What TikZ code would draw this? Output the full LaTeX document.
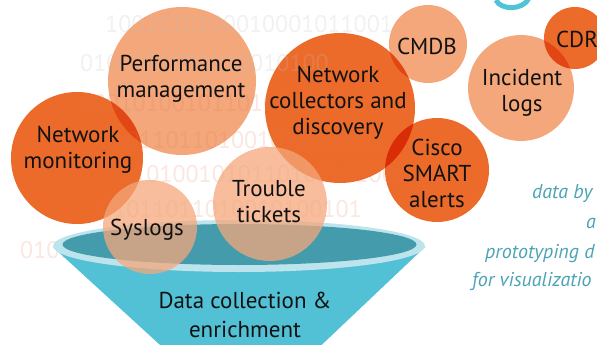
\documentclass[tikz,border=0pt]{standalone}
\usepackage{fontspec}
\setmainfont{PT Sans}
\definecolor{darkor}{RGB}{236,107,42}
\definecolor{lightor}{RGB}{244,167,123}
\definecolor{tealin}{RGB}{68,155,172}
\definecolor{funnelc}{RGB}{83,193,213}
\definecolor{rimc}{RGB}{189,228,236}
\definecolor{sidetxt}{RGB}{75,163,181}
\definecolor{gcyan}{RGB}{80,196,214}
\definecolor{digor}{RGB}{225,120,80}
\definecolor{diggr}{RGB}{190,190,190}
\definecolor{txt}{RGB}{17,17,17}
\begin{document}
\begin{tikzpicture}[x=1pt,y=-1pt,
  bubble/.style={circle, inner sep=0pt, draw=none, minimum size=#1},
  darkb/.style={bubble=#1, fill=darkor},
  lightb/.style={bubble=#1, fill=lightor},
  lbl/.style={font=\fontsize{23}{26}\selectfont, align=center, text=txt, inner sep=0pt, anchor=base},
  digits/.style={font=\fontsize{24}{24}\selectfont, text=digor, text opacity=0.18, inner sep=0pt, anchor=base west},
  digitsg/.style={font=\fontsize{24}{24}\selectfont, text=diggr, text opacity=0.22, inner sep=0pt, anchor=base west},
  side/.style={font=\fontsize{20}{20}\selectfont\itshape, text=sidetxt, inner sep=0pt, anchor=base west}]
\useasboundingbox (0,0) rectangle (597,345);
\clip (0,0) rectangle (597,345);
% orange bubbles (multiply)
\begin{scope}[blend mode=multiply]
  \node[lightb=148pt] (perf) at (182,81) {};
  \node[darkb=132pt] (mon) at (77,158) {};
  \node[darkb=150pt] (coll) at (340,108) {};
  \node[lightb=78pt] (cmdb) at (428,44) {};
  \node[lightb=106pt] (inc) at (521,88) {};
  \node[darkb=62pt] (cdr) at (575,38) {};
  \node[darkb=104pt] (cisco) at (437,170) {};
\end{scope}
% binary background
\node[digitsg] (dA) at (105,33) {1001010100010001011001};
\node[digitsg] (dB) at (80,71) {0100101001010010100};
\node[digits] (dC) at (80,111) {10010100101101001010};
\node[digits] (dD) at (100,148) {0101101101001011010011};
\node[digits] (dE) at (120,182) {0101001010110101101001};
\node[digits] (dF) at (100,217) {01011011010010100101};
\node[digits] (dG) at (20,258) {010110110100101};
% funnel
\fill[funnelc] (53,247) -- (171,355) -- (311,355) -- (425,247) -- cycle;
\fill[rimc] (239,246) ellipse [x radius=186pt, y radius=26pt];
\fill[tealin] (239.5,244.5) ellipse [x radius=177pt, y radius=20.5pt];
% translucent bubbles over funnel
\node[lightb=114pt, fill opacity=0.75] (trou) at (270,204) {};
\node[lightb=94pt, fill opacity=0.75] (sys) at (150,227) {};
% labels (anchor = baseline of last line)
\node[lbl] (tperf) at (181,97) {Performance\\management};
\node[lbl] (tmon) at (78,168) {Network\\monitoring};
\node[lbl] (tcoll) at (338,134) {Network\\collectors and\\discovery};
\node[lbl] (tcmdb) at (427,55) {CMDB};
\node[lbl] (tcdr) at (577,48) {CDR};
\node[lbl] (tinc) at (522,111) {Incident\\logs};
\node[lbl] (tcisco) at (437,207) {Cisco\\SMART\\alerts};
\node[lbl] (ttrou) at (269,222) {Trouble\\tickets};
\node[lbl] (tsys) at (147,235) {Syslogs};
\node[lbl, font=\fontsize{23}{29}\selectfont] (tdata) at (245,337) {Data collection \&\\enrichment};
% side text
\node[side] (s1) at (532,198) {data by};
\node[side] (s2) at (586,228) {a};
\node[side] (s3) at (485,258) {prototyping d};
\node[side] (s4) at (472,286) {for visualizatio};
% tail of the title letter
\coordinate (g1) at (496,0);
\coordinate (g2) at (529,-2);
\draw[gcyan, line width=5pt] (g1) .. controls (500,10) and (523,11) .. (g2);
\end{tikzpicture}
\end{document}
